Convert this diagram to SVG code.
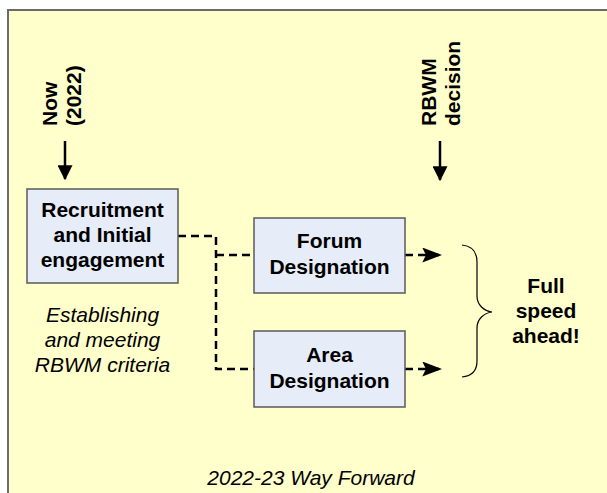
<svg xmlns="http://www.w3.org/2000/svg" width="607" height="493" viewBox="0 0 607 493">
<defs>
<style>
.box{fill:#E6ECF8;stroke:#5a5a5a;stroke-width:1.5}
.bt{font-family:"Liberation Sans",Arial,sans-serif;font-weight:bold;font-size:21px;fill:#000;text-anchor:middle}
.it{font-family:"Liberation Sans",Arial,sans-serif;font-style:italic;font-size:21px;fill:#000;text-anchor:middle}
.rt{font-family:"Liberation Sans",Arial,sans-serif;font-weight:bold;font-size:21px;fill:#000;text-anchor:start}
.dash{fill:none;stroke:#000;stroke-width:2.5;stroke-dasharray:8 5}
.solid{fill:none;stroke:#000;stroke-width:2.5}
</style>
<marker id="ah" markerWidth="8" markerHeight="6" refX="7.5" refY="3" orient="auto" markerUnits="strokeWidth">
<path d="M0,0 L8,3 L0,6 L1.5,3 Z" fill="#000"/>
</marker>
<marker id="ahv" markerWidth="6" markerHeight="6" refX="5.5" refY="3" orient="auto" markerUnits="strokeWidth">
<path d="M0,0 L6,3 L0,6 Z" fill="#000"/>
</marker>
</defs>
<rect x="8" y="10" width="620" height="500" fill="#FFFFCC" stroke="#6b6b6b" stroke-width="2"/>
<g id="labels">
<text class="rt" transform="translate(56.5,126) rotate(-90)">Now</text>
<text class="rt" transform="translate(80.5,126) rotate(-90)">(2022)</text>
<text class="rt" transform="translate(436,126) rotate(-90)">RBWM</text>
<text class="rt" transform="translate(460,126) rotate(-90)">decision</text>
<text class="it" x="102.5" y="322">Establishing</text>
<text class="it" x="102.5" y="347">and meeting</text>
<text class="it" x="102.5" y="372">RBWM criteria</text>
<text class="bt" x="546" y="293">Full</text>
<text class="bt" x="546" y="318">speed</text>
<text class="bt" x="546" y="343">ahead!</text>
<text class="it" x="311" y="485">2022-23 Way Forward</text>
</g>
<g id="connectors">
<line class="solid" x1="65" y1="141" x2="65" y2="179" marker-end="url(#ahv)"/>
<line class="solid" x1="440" y1="141" x2="440" y2="180" marker-end="url(#ahv)"/>
<path class="dash" d="M178,236 H216 V369 H254"/>
<path class="dash" d="M216,255 H254"/>
<path class="dash" d="M405,255 H441" marker-end="url(#ah)"/>
<path class="dash" d="M405,369 H441" marker-end="url(#ah)"/>
<path d="M462,245 C472,246 477,252 477,262 L477,296 C477,305 484,311 492,312 C484,313 477,319 477,328 L477,361 C477,371 472,376 462,377" fill="none" stroke="#000" stroke-width="1.2"/>
</g>
<g id="recruitment">
<rect class="box" x="27" y="189" width="151" height="94"/>
<text class="bt" x="102.5" y="217">Recruitment</text>
<text class="bt" x="102.5" y="242">and Initial</text>
<text class="bt" x="102.5" y="267">engagement</text>
</g>
<g id="forum">
<rect class="box" x="254" y="218" width="151" height="75"/>
<text class="bt" x="329.5" y="248">Forum</text>
<text class="bt" x="329.5" y="274">Designation</text>
</g>
<g id="area">
<rect class="box" x="254" y="331" width="151" height="76"/>
<text class="bt" x="329.5" y="362">Area</text>
<text class="bt" x="329.5" y="388">Designation</text>
</g>
</svg>
